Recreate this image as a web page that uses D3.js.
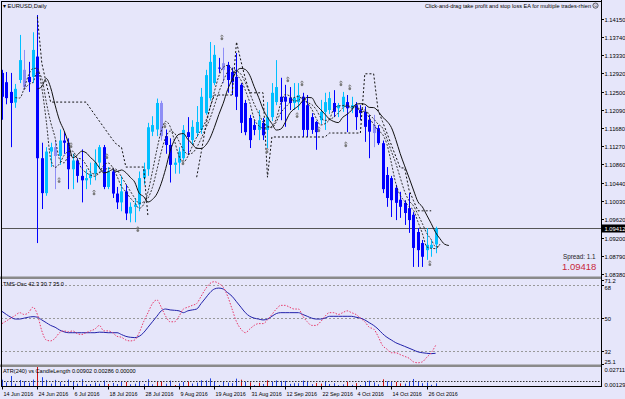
<!DOCTYPE html>
<html>
<head>
<meta charset="utf-8">
<script src="https://cdn.jsdelivr.net/npm/d3@7"></script>
<style>
body { margin: 0; background: #e6e6fa; }
svg { display: block; }
text { font-family: "Liberation Sans", Arial, sans-serif; }
</style>
</head>
<body>
<script>
// dimensions
var width = 625;
var height = 399;

// time axis
var tickLabels = ["14 Jun 2016", "24 Jun 2016", "6 Jul 2016", "18 Jul 2016", "28 Jul 2016", "9 Aug 2016",
    "19 Aug 2016", "31 Aug 2016", "12 Sep 2016", "22 Sep 2016", "4 Oct 2016", "14 Oct 2016", "26 Oct 2016"];
var tickBars = [0, 8, 16, 24, 32, 40, 48, 56, 64, 72, 80, 88, 96];

// EURUSD daily candles, 14 Jun 2016 .. 28 Oct 2016
var open = [1.1293, 1.1272, 1.1250, 1.1226, 1.1277, 1.1300, 1.1284, 1.1284, 1.1330, 1.1100,
    1.1021, 1.1115, 1.1125, 1.1105, 1.1140, 1.1135, 1.1075, 1.1095, 1.1060, 1.1050,
    1.1055, 1.1065, 1.1090, 1.1125, 1.1035, 1.1070, 1.1020, 1.1000, 1.1025, 1.0975,
    1.0990, 1.0995, 1.1055, 1.1075, 1.1160, 1.1165, 1.1225, 1.1150, 1.1130, 1.1085,
    1.1090, 1.1100, 1.1159, 1.1141, 1.1157, 1.1164, 1.1202, 1.1236, 1.1270, 1.1305,
    1.1315, 1.1311, 1.1295, 1.1284, 1.1266, 1.1225, 1.1191, 1.1175, 1.1164, 1.1180,
    1.1164, 1.1193, 1.1227, 1.1239, 1.1239, 1.1237, 1.1225, 1.1227, 1.1239, 1.1220,
    1.1193, 1.1182, 1.1186, 1.1205, 1.1209, 1.1225, 1.1213, 1.1216, 1.1227, 1.1213,
    1.1220, 1.1209, 1.1205, 1.1187, 1.1175, 1.1168, 1.1134, 1.1062, 1.1055, 1.1033,
    1.1006, 1.0999, 1.0987, 1.0972, 1.0933, 1.0908, 1.0892, 1.0897, 1.0905];
var high = [1.1300, 1.1295, 1.1293, 1.1268, 1.1379, 1.1345, 1.1318, 1.1385, 1.1424, 1.1135,
    1.1125, 1.1135, 1.1140, 1.1165, 1.1160, 1.1145, 1.1110, 1.1100, 1.1120, 1.1075,
    1.1090, 1.1120, 1.1130, 1.1130, 1.1080, 1.1075, 1.1035, 1.1060, 1.1040, 1.1000,
    1.1010, 1.1070, 1.1090, 1.1180, 1.1195, 1.1235, 1.1230, 1.1165, 1.1145, 1.1100,
    1.1125, 1.1175, 1.1193, 1.1186, 1.1218, 1.1259, 1.1300, 1.1363, 1.1356, 1.1327,
    1.1350, 1.1318, 1.1305, 1.1338, 1.1270, 1.1232, 1.1198, 1.1186, 1.1209, 1.1191,
    1.1227, 1.1270, 1.1322, 1.1282, 1.1266, 1.1261, 1.1270, 1.1270, 1.1248, 1.1243,
    1.1202, 1.1184, 1.1232, 1.1248, 1.1250, 1.1254, 1.1225, 1.1250, 1.1243, 1.1239,
    1.1227, 1.1220, 1.1217, 1.1198, 1.1198, 1.1175, 1.1140, 1.1080, 1.1060, 1.1040,
    1.1024, 1.1005, 1.1021, 1.0978, 1.0942, 1.0915, 1.0942, 1.0915, 1.0945];
var low = [1.1187, 1.1222, 1.1125, 1.1214, 1.1270, 1.1254, 1.1250, 1.1270, 1.0908, 1.0985,
    1.1015, 1.1080, 1.1030, 1.1085, 1.1110, 1.1030, 1.1030, 1.1045, 1.1000, 1.1030,
    1.1040, 1.1050, 1.1075, 1.1030, 1.1030, 1.1010, 1.0985, 1.0980, 1.0960, 1.0955,
    1.0955, 1.0980, 1.1040, 1.1060, 1.1150, 1.1150, 1.1140, 1.1110, 1.1045, 1.1065,
    1.1065, 1.1096, 1.1107, 1.1130, 1.1148, 1.1155, 1.1198, 1.1230, 1.1265, 1.1293,
    1.1270, 1.1248, 1.1243, 1.1209, 1.1157, 1.1152, 1.1123, 1.1152, 1.1141, 1.1141,
    1.1123, 1.1184, 1.1220, 1.1186, 1.1171, 1.1209, 1.1209, 1.1209, 1.1148, 1.1148,
    1.1155, 1.1119, 1.1177, 1.1164, 1.1200, 1.1193, 1.1193, 1.1205, 1.1159, 1.1202,
    1.1164, 1.1186, 1.1137, 1.1100, 1.1125, 1.1130, 1.1021, 1.0990, 1.0967, 1.0960,
    1.0965, 1.0949, 1.0931, 1.0854, 1.0854, 1.0854, 1.0870, 1.0877, 1.0885];
var close = [1.1239, 1.1236, 1.1225, 1.1257, 1.1322, 1.1261, 1.1272, 1.1345, 1.1100, 1.1021,
    1.1115, 1.1125, 1.1105, 1.1140, 1.1135, 1.1075, 1.1095, 1.1060, 1.1050, 1.1055,
    1.1065, 1.1090, 1.1125, 1.1035, 1.1070, 1.1020, 1.1000, 1.1025, 1.0975, 1.0990,
    1.0995, 1.1055, 1.1075, 1.1170, 1.1175, 1.1225, 1.1150, 1.1130, 1.1085, 1.1090,
    1.1115, 1.1164, 1.1148, 1.1171, 1.1182, 1.1239, 1.1288, 1.1318, 1.1334, 1.1303,
    1.1300, 1.1277, 1.1272, 1.1239, 1.1180, 1.1159, 1.1141, 1.1164, 1.1186, 1.1152,
    1.1193, 1.1248, 1.1261, 1.1227, 1.1228, 1.1225, 1.1237, 1.1243, 1.1164, 1.1164,
    1.1164, 1.1159, 1.1205, 1.1227, 1.1236, 1.1205, 1.1220, 1.1239, 1.1213, 1.1220,
    1.1193, 1.1202, 1.1171, 1.1160, 1.1157, 1.1134, 1.1030, 1.1010, 1.1005, 1.0999,
    1.0990, 1.0976, 1.0960, 1.0897, 1.0892, 1.0877, 1.0904, 1.0904, 1.0941];

// candles drawn in the pale violet colour
var paleBars = [5, 12, 36, 50, 84];

// dotted stop line (null = not drawn)
var stopLine = [null, null, null, null, null, null, null, null, 1.1420, 1.1315,
    1.1270, 1.1227, 1.1227, 1.1227, 1.1227, 1.1227, 1.1227, 1.1227, 1.1227, 1.1227,
    1.1212, 1.1198, 1.1184, 1.1170, 1.1156, 1.1142, 1.1130, 1.1125, 1.1080, 1.1080,
    1.1080, 1.1080, 1.1080, 1.0967, null, null, null, null, null, null,
    null, null, null, null, 1.1057, 1.1112, 1.1170, 1.1215, 1.1243, 1.1243,
    1.1243, 1.1243, 1.1243, 1.1363, 1.1320, 1.1280, 1.1248, 1.1248, 1.1248, 1.1248,
    1.1057, 1.1148, 1.1148, 1.1148, 1.1148, 1.1148, 1.1148, 1.1148, 1.1148, 1.1148,
    1.1148, 1.1148, 1.1148, 1.1148, 1.1157, 1.1157, 1.1157, 1.1157, 1.1157, 1.1157,
    1.1157, 1.1157, 1.1291, 1.1291, 1.1291, 1.1209, 1.1183, 1.1157, 1.1130, 1.1104,
    1.1078, 1.1078, 1.1028, 1.1004, 1.0981, 1.0981, 1.0981, 1.0981, null];

// fractal marks: [bar position, price]
var fractalUp = [[15.6, 1.1128], [23.7, 1.1103], [36.8, 1.1173], [49.7, 1.1372], [64.6, 1.1277],
    [67.8, 1.1268], [76.6, 1.1268], [78.6, 1.1259]];
var fractalDown = [[12.9, 1.1049], [20.8, 1.1021], [30.7, 1.0938], [40.9, 1.1089], [59.9, 1.1116],
    [66.7, 1.1196], [71.6, 1.1164], [77.7, 1.1130], [96.7, 1.0861]];

var priceTicks = [1.14150, 1.13740, 1.13330, 1.12920, 1.12500, 1.12090, 1.11680, 1.11270,
    1.10860, 1.10440, 1.10030, 1.09620, 1.09200, 1.08790, 1.08380];
var lastPrice = 1.09412;

// TMS oscillator
var oscBlue = [53.7, 52, 50.5, 49.5, 49.5, 50, 50.5, 50.8, 50.5, 49,
    47.5, 46, 45, 43.5, 42.5, 42, 42, 42, 42, 42,
    42, 42, 42.3, 42.2, 42, 42, 42, 41, 40, 39.5,
    39.3, 40, 42, 45, 48, 51, 54, 55, 54.5, 54.3,
    54, 53, 54, 54.5, 55, 58, 61, 64, 66, 66.5,
    66, 64, 62, 59, 56, 53, 51, 50, 49.5, 49,
    49.5, 51, 52.5, 53, 53, 53, 53, 53, 52, 51,
    50, 49.5, 49.5, 50, 51, 51, 51, 51, 51, 51,
    50.5, 50, 49, 47.5, 46, 44, 41.5, 39.5, 38, 36.5,
    35.5, 34.5, 33.5, 32.5, 31.5, 31, 30.7, 30.5, 30.7];
var oscRed = [47, 48.5, 50, 51.5, 53, 52, 53, 56, 52, 43,
    38, 37.5, 39, 42, 43, 42.5, 43, 41.5, 41, 42,
    43, 44, 46, 43, 43, 42, 40, 39.5, 38, 37.5,
    38, 42, 48, 53, 58, 60, 56, 51, 48, 48,
    51, 55, 56, 57, 58, 62, 66, 69, 70, 69,
    67, 62, 55, 48, 44, 42, 44, 46, 47, 47,
    49, 52, 55, 57, 57, 56, 55, 55, 51, 48,
    46, 46, 48, 51, 53, 53, 52, 53, 54, 53,
    52, 50, 48, 45, 44, 40, 35, 33, 31, 31,
    30, 29, 28, 26, 25.5, 26, 28.5, 31, 35];
var oscLevels = [68, 50, 32];
var oscLabels = ["71.2", "68", "50", "32", "25.1"];

// candle length histogram: bars drawn red, ATR(240) level
var atrRedBars = [8, 24, 28, 35, 36, 39, 42, 54, 56, 58, 60, 71, 72, 78, 80, 86, 89, 90];
var atrLevel = 0.00902;

// layout
var main = {top: 2, bottom: 276};
var osc = {top: 279, bottom: 364};
var atr = {top: 367, bottom: 386.5};
var axisX = 601;

var svg = d3.select("body")
    .append("svg")
    .attr("width", width)
    .attr("height", height);

svg.append("rect")
    .attr("width", width)
    .attr("height", height)
    .attr("fill", "#e6e6fa");

var x = d3.scaleLinear().domain([0, 98]).range([2, 435.6]);
var y = d3.scaleLinear().domain([1.0838, 1.1415]).range([274, 19]);
var yOsc = d3.scaleLinear().domain([25.1, 71.2]).range([363.5, 279.5]);
var yAtr = d3.scaleLinear().domain([0.00129, 0.02711]).range([386.5, 369]);

var defs = svg.append("defs");
defs.append("clipPath").attr("id", "clipMain")
    .append("rect").attr("x", 1).attr("y", main.top).attr("width", axisX - 1).attr("height", main.bottom - main.top);
defs.append("clipPath").attr("id", "clipOsc")
    .append("rect").attr("x", 1).attr("y", osc.top).attr("width", axisX - 1).attr("height", osc.bottom - osc.top);
defs.append("clipPath").attr("id", "clipAtr")
    .append("rect").attr("x", 1).attr("y", atr.top).attr("width", axisX - 1).attr("height", atr.bottom - atr.top);

var bars = d3.range(open.length);

// ---------- main panel ----------
var gMain = svg.append("g").attr("clip-path", "url(#clipMain)");

// current price line
gMain.append("line")
    .attr("x1", 1).attr("x2", axisX)
    .attr("y1", Math.round(y(lastPrice)) + 0.5).attr("y2", Math.round(y(lastPrice)) + 0.5)
    .attr("stroke", "#555").attr("stroke-width", 1);

function colour(i) {
    if (paleBars.indexOf(i) >= 0) return "#8e8ef6";
    return close[i] >= open[i] ? "#00bfff" : "#0000ff";
}

// wicks
gMain.selectAll(".wick")
    .data(bars)
    .enter().append("line")
    .attr("class", "wick")
    .attr("x1", function(i) { return Math.round(x(i)) + 0.5; })
    .attr("x2", function(i) { return Math.round(x(i)) + 0.5; })
    .attr("y1", function(i) { return y(high[i]); })
    .attr("y2", function(i) { return y(low[i]); })
    .attr("stroke", colour)
    .attr("stroke-width", 1);

// bodies
gMain.selectAll(".body")
    .data(bars)
    .enter().append("rect")
    .attr("class", "body")
    .attr("x", function(i) { return Math.round(x(i)) - 1; })
    .attr("width", 3)
    .attr("y", function(i) { return y(Math.max(open[i], close[i])); })
    .attr("height", function(i) { return Math.max(1, Math.abs(y(open[i]) - y(close[i]))); })
    .attr("fill", colour);

// moving averages, shifted forward
var median = bars.map(function(i) { return (high[i] + low[i]) / 2; });

function sma(src, period, shift) {
    var out = [];
    for (var i = period - 1; i < src.length; i++) {
        out.push([i + shift, d3.mean(src.slice(i - period + 1, i + 1))]);
    }
    return out;
}

var maLine = d3.line()
    .x(function(d) { return x(d[0]); })
    .y(function(d) { return y(d[1]); })
    .curve(d3.curveMonotoneX);

gMain.append("path")
    .attr("d", maLine(sma(median, 3, 1)))
    .attr("fill", "none").attr("stroke", "#222").attr("stroke-width", 0.9)
    .attr("stroke-dasharray", "2,1.5");
gMain.append("path")
    .attr("d", maLine(sma(median, 5, 1)))
    .attr("fill", "none").attr("stroke", "#222").attr("stroke-width", 0.9)
    .attr("stroke-dasharray", "2,1.5");
gMain.append("path")
    .attr("d", maLine(sma(close, 6, 3)))
    .attr("fill", "none").attr("stroke", "#111").attr("stroke-width", 1);

// stepped stop line
var stopPath = d3.line()
    .defined(function(d) { return d != null; })
    .x(function(d, i) { return x(i); })
    .y(function(d) { return y(d); });

gMain.append("path")
    .attr("d", stopPath(stopLine))
    .attr("fill", "none").attr("stroke", "#111").attr("stroke-width", 1)
    .attr("stroke-dasharray", "2,2");

// fractal marks
function fractal(sel) {
    sel.append("circle").attr("cy", 0.8).attr("r", 1.4).attr("fill", "#7a7a7a");
    sel.append("path")
        .attr("d", "M0,-3V0M-1.6,-1.6L0,-3L1.6,-1.6")
        .attr("stroke", "#7a7a7a").attr("stroke-width", 0.8).attr("fill", "none");
}

gMain.selectAll(".frac")
    .data(fractalUp.concat(fractalDown))
    .enter().append("g")
    .attr("transform", function(d) { return "translate(" + x(d[0]) + "," + y(d[1]) + ")"; })
    .call(fractal);

// titles
svg.append("text")
    .attr("x", 3).attr("y", 8)
    .style("font-size", "5.8px")
    .attr("fill", "#000")
    .text("\u25BE EURUSD,Daily");

svg.append("text")
    .attr("x", 591).attr("y", 7.5)
    .attr("text-anchor", "end")
    .style("font-size", "5.6px")
    .attr("fill", "#000")
    .text("Click-and-drag take profit and stop loss EA for multiple trades-rhien");
svg.append("circle").attr("cx", 595.5).attr("cy", 5.6).attr("r", 2.6)
    .attr("fill", "none").attr("stroke", "#000").attr("stroke-width", 0.6);
svg.append("text")
    .attr("x", 595.5).attr("y", 7.3)
    .attr("text-anchor", "middle")
    .style("font-size", "4.5px")
    .text("\u263A");

svg.append("text")
    .attr("x", 563).attr("y", 259)
    .style("font-size", "6.3px")
    .attr("fill", "#222")
    .text("Spread: 1.1");
svg.append("text")
    .attr("x", 562).attr("y", 270)
    .style("font-size", "9.5px")
    .attr("fill", "#c8283c")
    .text("1.09418");

// ---------- oscillator panel ----------
var gOsc = svg.append("g").attr("clip-path", "url(#clipOsc)");

gOsc.selectAll(".lvl")
    .data(oscLevels)
    .enter().append("line")
    .attr("x1", 1).attr("x2", axisX)
    .attr("y1", function(d) { return Math.round(yOsc(d)) + 0.5; })
    .attr("y2", function(d) { return Math.round(yOsc(d)) + 0.5; })
    .attr("stroke", "#999").attr("stroke-dasharray", "2,2");

var oscLine = d3.line()
    .x(function(d, i) { return x(i); })
    .y(function(d) { return yOsc(d); })
    .curve(d3.curveMonotoneX);

gOsc.append("path")
    .attr("d", oscLine(oscBlue))
    .attr("fill", "none").attr("stroke", "#2222aa").attr("stroke-width", 1);
gOsc.append("path")
    .attr("d", oscLine(oscRed))
    .attr("fill", "none").attr("stroke", "#e8386a").attr("stroke-width", 1)
    .attr("stroke-dasharray", "1.5,1.5");

svg.append("text")
    .attr("x", 3).attr("y", 286)
    .style("font-size", "5.6px")
    .text("TMS-Osc 42.3 30.7 35.0");

// ---------- candle length panel ----------
var gAtr = svg.append("g").attr("clip-path", "url(#clipAtr)");

gAtr.selectAll(".hist")
    .data(bars)
    .enter().append("line")
    .attr("x1", function(i) { return Math.round(x(i)) + 0.5; })
    .attr("x2", function(i) { return Math.round(x(i)) + 0.5; })
    .attr("y1", yAtr(0.00129))
    .attr("y2", function(i) { return yAtr(high[i] - low[i]); })
    .attr("stroke", function(i) { return atrRedBars.indexOf(i) >= 0 ? "#d01010" : "#2040e0"; })
    .attr("stroke-width", 1);

gAtr.append("line")
    .attr("x1", 1).attr("x2", axisX)
    .attr("y1", Math.round(yAtr(atrLevel)) + 0.5).attr("y2", Math.round(yAtr(atrLevel)) + 0.5)
    .attr("stroke", "#333").attr("stroke-dasharray", "1.5,1.5");

svg.append("text")
    .attr("x", 3).attr("y", 373)
    .style("font-size", "5.6px")
    .text("ATR(240) vs CandleLength  0.00902 0.00286 0.00000");

// ---------- frames ----------
svg.append("rect").attr("x", 0).attr("y", 276.5).attr("width", axisX + 1).attr("height", 2.5).attr("fill", "#8a8a8a");
svg.append("rect").attr("x", 0).attr("y", 364.5).attr("width", axisX + 1).attr("height", 2.5).attr("fill", "#8a8a8a");
svg.append("line").attr("x1", 1.5).attr("x2", 1.5).attr("y1", 1).attr("y2", atr.bottom).attr("stroke", "#000");
svg.append("line").attr("x1", 1).attr("x2", axisX).attr("y1", 1.5).attr("y2", 1.5).attr("stroke", "#000");
svg.append("line").attr("x1", 1).attr("x2", axisX).attr("y1", atr.bottom).attr("y2", atr.bottom).attr("stroke", "#000");
svg.append("line").attr("x1", axisX + 0.5).attr("x2", axisX + 0.5).attr("y1", 0).attr("y2", atr.bottom + 0.5).attr("stroke", "#000");

// price axis
var pAxis = svg.append("g");
priceTicks.forEach(function(p) {
    var yy = Math.round(y(p)) + 0.5;
    pAxis.append("line").attr("x1", axisX).attr("x2", axisX + 3).attr("y1", yy).attr("y2", yy).attr("stroke", "#000");
    pAxis.append("text")
        .attr("x", 604.5).attr("y", yy + 2)
        .style("font-size", "5.8px")
        .text(p.toFixed(5));
});

svg.append("rect")
    .attr("x", axisX + 1).attr("y", Math.round(y(lastPrice)) - 3.5)
    .attr("width", 23).attr("height", 8).attr("fill", "#000");
svg.append("text")
    .attr("x", 604.5).attr("y", Math.round(y(lastPrice)) + 2.5)
    .style("font-size", "5.8px")
    .attr("fill", "#fff")
    .text(lastPrice.toFixed(5));

// oscillator axis
[71.2, 68, 50, 32, 25.1].forEach(function(v, k) {
    var yy = Math.round(yOsc(v)) + 0.5;
    svg.append("line").attr("x1", axisX).attr("x2", axisX + 3).attr("y1", yy).attr("y2", yy).attr("stroke", "#000");
    svg.append("text")
        .attr("x", 604.5).attr("y", yy + (k == 0 ? 2.5 : k == 1 ? 4.5 : k == 4 ? -1 : 2))
        .style("font-size", "5.8px")
        .text(oscLabels[k]);
});

// candle length axis
svg.append("text").attr("x", 604.5).attr("y", 372).style("font-size", "5.8px").text("0.02711");
svg.append("text").attr("x", 604.5).attr("y", 387).style("font-size", "5.8px").text("0.00129");

// time axis
var tAxis = svg.append("g");
tickBars.forEach(function(b, k) {
    var xx = Math.round(x(b)) + 0.5;
    tAxis.append("line").attr("x1", xx).attr("x2", xx).attr("y1", atr.bottom).attr("y2", atr.bottom + 3).attr("stroke", "#000");
    tAxis.append("text")
        .attr("x", xx + 1).attr("y", 395.5)
        .style("font-size", "5.4px")
        .text(tickLabels[k]);
});
</script>
</body>
</html>
